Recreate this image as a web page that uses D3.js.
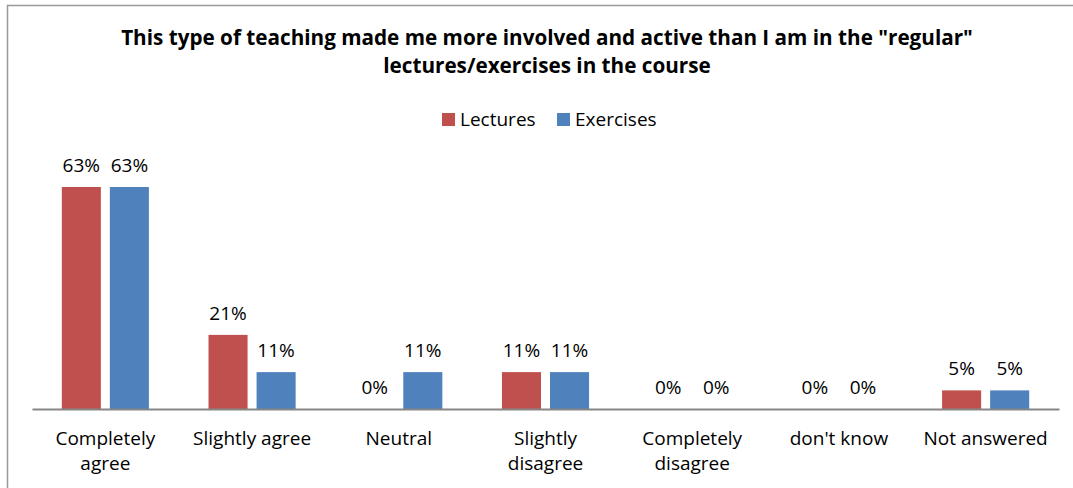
<!DOCTYPE html>
<html><head><meta charset="utf-8">
<script src="https://cdn.jsdelivr.net/npm/d3@7"></script>
<style>
html,body{margin:0;padding:0;background:#fff;}
svg{display:block;}
text{font-family:"Open Sans",sans-serif;fill:#000;}
</style></head><body>
<svg id="chart" width="1073" height="488"></svg>
<script>
const categories = ["Completely agree","Slightly agree","Neutral","Slightly disagree","Completely disagree","don't know","Not answered"];
const categoryLines = [["Completely","agree"],["Slightly agree"],["Neutral"],["Slightly","disagree"],["Completely","disagree"],["don't know"],["Not answered"]];
const seriesNames = ["Lectures","Exercises"];
const lectures = [0.632, 0.211, 0, 0.105, 0, 0, 0.053];
const exercises = [0.632, 0.105, 0.105, 0.105, 0, 0, 0.053];
const colors = ["#C0504D","#4F81BD"];
const titleLines = ['This type of teaching made me more involved and active than I am in the "regular"', 'lectures/exercises in the course'];

const svg = d3.select("#chart");
// chart border
svg.append("rect").attr("x",7.5).attr("y",5.5).attr("width",1080).attr("height",500)
  .attr("fill","none").attr("stroke","#999").attr("stroke-width",1.5);

const plotLeft = 32, plotRight = 1059, baseY = 409, topY = 187;
const x0 = d3.scaleBand().domain(categories).range([plotLeft, plotRight]).paddingInner(0).paddingOuter(0);
const x1 = d3.scaleBand().domain(seriesNames).range([0, x0.bandwidth()]).paddingInner(0.1875).paddingOuter(0.62);
const y = d3.scaleLinear().domain([0, 0.632]).range([baseY, topY]);

const data = categories.map((c,i)=>({cat:c, vals:[lectures[i], exercises[i]]}));

const g = svg.append("g");
const groups = g.selectAll(".grp").data(data).enter().append("g")
  .attr("transform", d=>`translate(${x0(d.cat)},0)`);
groups.selectAll("rect").data(d=>d.vals.map((v,j)=>({v, s:seriesNames[j], j})))
  .enter().append("rect")
  .attr("x", d=>x1(d.s)).attr("width", x1.bandwidth())
  .attr("y", d=>y(d.v)).attr("height", d=>baseY - y(d.v))
  .attr("fill", d=>colors[d.j]);
groups.selectAll("text.val").data(d=>d.vals.map((v,j)=>({v, s:seriesNames[j], j})))
  .enter().append("text").attr("class","val")
  .attr("x", d=>x1(d.s)+x1.bandwidth()/2).attr("y", d=>y(d.v)-15)
  .attr("text-anchor","middle").attr("font-size","19px")
  .text(d=>d3.format(".0%")(d.v));

// axis
const axis = d3.axisBottom(x0).tickSize(0).tickFormat("");
const ax = svg.append("g").attr("transform",`translate(0,${baseY})`).call(axis);
ax.select(".domain").attr("stroke","#868686").attr("stroke-width",2);
ax.selectAll(".tick").each(function(d,i){
  const t = d3.select(this).append("text").attr("text-anchor","middle").attr("font-size","19px");
  categoryLines[i].forEach((ln,k)=>{
    t.append("tspan").attr("x",0).attr("y",36 + k*25).text(ln);
  });
});

// title
svg.selectAll(".title").data(titleLines).enter().append("text")
  .attr("x",547).attr("y",(d,i)=>45+i*28).attr("text-anchor","middle")
  .attr("font-size","20.7px").attr("font-weight","bold").text(d=>d);

// legend
const leg = svg.append("g");
const legX = [442, 557];
seriesNames.forEach((s,i)=>{
  leg.append("rect").attr("x",legX[i]).attr("y",113).attr("width",13).attr("height",13).attr("fill",colors[i]);
  leg.append("text").attr("x",legX[i]+18).attr("y",126).attr("font-size","19px").text(s);
});
</script></body></html>
